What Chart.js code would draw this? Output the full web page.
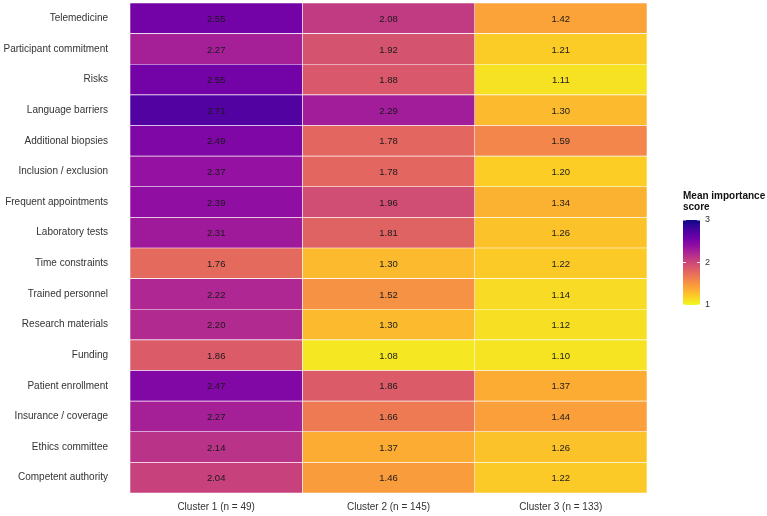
<!DOCTYPE html>
<html>
<head>
<meta charset="utf-8">
<script src="https://cdn.jsdelivr.net/npm/chart.js@4/dist/chart.umd.min.js"></script>
<style>
  html, body { margin: 0; padding: 0; background: #ffffff; }
  #wrap { width: 767px; height: 516px; }
</style>
</head>
<body>
<div id="wrap"><canvas id="c" width="767" height="516"></canvas></div>
<script>
const categories = ["Telemedicine","Participant commitment","Risks","Language barriers","Additional biopsies","Inclusion / exclusion","Frequent appointments","Laboratory tests","Time constraints","Trained personnel","Research materials","Funding","Patient enrollment","Insurance / coverage","Ethics committee","Competent authority"];
const clusterLabels = ["Cluster 1 (n = 49)","Cluster 2 (n = 145)","Cluster 3 (n = 133)"];
const cluster1 = [2.55,2.27,2.55,2.71,2.49,2.37,2.39,2.31,1.76,2.22,2.20,1.86,2.47,2.27,2.14,2.04];
const cluster2 = [2.08,1.92,1.88,2.29,1.78,1.78,1.96,1.81,1.30,1.52,1.30,1.08,1.86,1.66,1.37,1.46];
const cluster3 = [1.42,1.21,1.11,1.30,1.59,1.20,1.34,1.26,1.22,1.14,1.12,1.10,1.37,1.44,1.26,1.22];
const legendTicks = [1, 2, 3];
const legendTitle = ["Mean importance", "score"];
const scaleMin = 1, scaleMax = 3;

const series = [cluster1, cluster2, cluster3];

// plasma colormap stops
const plasma = ["#0d0887","#41049d","#6a00a8","#8f0da4","#b12a90","#cc4778","#e16462","#f2844b","#fca636","#fcce25","#f0f921"];
function hexToRgb(h){ return [parseInt(h.slice(1,3),16),parseInt(h.slice(3,5),16),parseInt(h.slice(5,7),16)]; }
function plasmaAt(t){
  t = Math.max(0, Math.min(1, t));
  const p = t * (plasma.length - 1);
  const i = Math.min(Math.floor(p), plasma.length - 2);
  const f = p - i;
  const a = hexToRgb(plasma[i]), b = hexToRgb(plasma[i+1]);
  const c = a.map((v,k)=>Math.round(v + (b[k]-v)*f));
  return `rgb(${c[0]},${c[1]},${c[2]})`;
}
// reversed plasma: high value = dark
function colorFor(v){ return plasmaAt((scaleMax - v) / (scaleMax - scaleMin)); }

const FONT = "'Liberation Sans', Arial, sans-serif";

const datasets = series.map((vals, ci) => ({
  label: clusterLabels[ci],
  data: vals.map(() => [ci, ci + 1]),
  values: vals,
  backgroundColor: vals.map(colorFor),
  borderColor: 'rgba(255,255,255,0.85)',
  borderWidth: 0.6,
  borderSkipped: false,
  barPercentage: 1,
  categoryPercentage: 1,
  grouped: false
}));

const cellText = {
  id: 'cellText',
  afterDatasetsDraw(chart) {
    const ctx = chart.ctx;
    ctx.save();
    ctx.font = `9.5px ${FONT}`;
    ctx.fillStyle = '#1a1a1a';
    ctx.textAlign = 'center';
    ctx.textBaseline = 'middle';
    chart.data.datasets.forEach((ds, di) => {
      const meta = chart.getDatasetMeta(di);
      meta.data.forEach((el, i) => {
        const cx = (el.x + el.base) / 2;
        ctx.fillText(ds.values[i].toFixed(2), cx, el.y + 1);
      });
    });
    ctx.restore();
  }
};

const colorLegend = {
  id: 'colorLegend',
  afterDraw(chart) {
    const ctx = chart.ctx;
    const x0 = 683, w = 17, top = 220, bottom = 305;
    ctx.save();
    ctx.fillStyle = '#111';
    ctx.font = `bold 10px ${FONT}`;
    ctx.textAlign = 'left';
    ctx.textBaseline = 'middle';
    ctx.fillText(legendTitle[0], x0, 196);
    ctx.fillText(legendTitle[1], x0, 207);
    const g = ctx.createLinearGradient(0, bottom, 0, top);
    for (let k = 0; k <= 20; k++) {
      const v = scaleMin + (scaleMax - scaleMin) * k / 20;
      g.addColorStop(k / 20, colorFor(v));
    }
    ctx.fillStyle = g;
    ctx.fillRect(x0, top, w, bottom - top);
    ctx.font = `9px ${FONT}`;
    ctx.fillStyle = '#333';
    legendTicks.forEach(t => {
      const y = bottom - (t - scaleMin) / (scaleMax - scaleMin) * (bottom - top);
      ctx.strokeStyle = 'rgba(255,255,255,0.9)';
      ctx.lineWidth = 1;
      ctx.beginPath(); ctx.moveTo(x0, y); ctx.lineTo(x0 + 3, y); ctx.stroke();
      ctx.beginPath(); ctx.moveTo(x0 + w - 3, y); ctx.lineTo(x0 + w, y); ctx.stroke();
      ctx.fillText(String(t), x0 + w + 5, y);
    });
    ctx.restore();
  }
};

new Chart(document.getElementById('c'), {
  type: 'bar',
  data: { labels: categories, datasets },
  options: {
    indexAxis: 'y',
    responsive: false,
    animation: false,
    layout: { padding: { top: 3, right: 120, left: 0, bottom: 0 } },
    plugins: { legend: { display: false }, tooltip: { enabled: false } },
    scales: {
      x: {
        type: 'linear', min: 0, max: 3,
        grid: { display: false, drawTicks: false },
        border: { display: false },
        afterFit(scale) { scale.height = 23; scale.paddingLeft = 0; scale.paddingRight = 0; },
        afterBuildTicks(scale) { scale.ticks = [0.5, 1.5, 2.5].map(v => ({ value: v })); },
        ticks: {
          autoSkip: false, maxRotation: 0, padding: 8,
          color: '#333',
          font: { family: FONT, size: 10 },
          callback: (v) => clusterLabels[Math.floor(v)]
        }
      },
      y: {
        type: 'category',
        grid: { display: false, drawTicks: false },
        border: { display: false },
        afterFit(scale) { scale.width = 130; scale.paddingTop = 0; scale.paddingBottom = 0; },
        ticks: {
          padding: 22, autoSkip: false,
          color: '#333',
          font: { family: FONT, size: 10 }
        }
      }
    }
  },
  plugins: [cellText, colorLegend]
});
</script>
</body>
</html>
